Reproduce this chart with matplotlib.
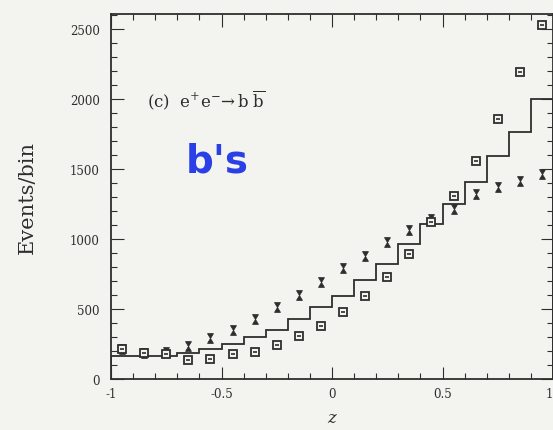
import matplotlib
matplotlib.use("Agg")
import matplotlib.pyplot as plt
from matplotlib.ticker import MultipleLocator
import numpy as np

# bin edges in z and histogram (step) contents
edges = np.linspace(-1, 1, 21)
hist_vals = [164, 164, 164, 186, 214, 250, 300, 350, 429, 514,
             593, 707, 821, 964, 1107, 1250, 1407, 1593, 1764, 2000]

# data points (bin centres)
centres = [-0.95, -0.85, -0.75, -0.65, -0.55, -0.45, -0.35, -0.25, -0.15, -0.05,
           0.05, 0.15, 0.25, 0.35, 0.45, 0.55, 0.65, 0.75, 0.85, 0.95]
hourglass_vals = [214, 186, 193, 236, 293, 350, 429, 514, 600, 693,
                  793, 879, 979, 1064, 1143, 1214, 1321, 1371, 1414, 1464]
square_vals = [214, 186, 179, 136, 143, 179, 193, 243, 307, 379,
               479, 593, 729, 893, 1121, 1307, 1557, 1857, 2193, 2529]

xticks = [-1, -0.5, 0, 0.5, 1]
xtick_labels = ["-1", "-0.5", "0", "0.5", "1"]
yticks = [0, 500, 1000, 1500, 2000, 2500]

bg = "#f3f3f0"
ink = "#2e2e2e"

plt.rcParams["font.family"] = "DejaVu Serif"
plt.rcParams["mathtext.fontset"] = "dejavuserif"

fig = plt.figure(figsize=(5.53, 4.31), dpi=100, facecolor=bg)
ax = fig.add_axes([111 / 553, 51 / 431, 442 / 553, 365 / 431], facecolor=bg)

ax.stairs(hist_vals, edges, color=ink, linewidth=1.3)

hourglass = [(-0.6, 1), (0.6, 1), (-0.6, -1), (0.6, -1), (-0.6, 1)]
ax.plot(centres, hourglass_vals, linestyle="none", marker=hourglass,
        markersize=7, color=ink, markeredgewidth=0.6)
ax.plot(centres, square_vals, linestyle="none", marker="s", markersize=5.5,
        markerfacecolor=bg, markeredgecolor=ink, markeredgewidth=1.3)
ax.plot(centres, square_vals, linestyle="none", marker="_", markersize=3.5,
        color=ink, markeredgewidth=1.2)

ax.set_xlim(-1, 1)
ax.set_ylim(0, 2607)
ax.set_xticks(xticks)
ax.set_xticklabels(xtick_labels)
ax.get_xticklabels()[-1].set_horizontalalignment("right")
ax.set_yticks(yticks)
ax.xaxis.set_minor_locator(MultipleLocator(0.1))
ax.yaxis.set_minor_locator(MultipleLocator(100))
ax.tick_params(which="both", direction="in", top=True, right=True,
               colors=ink, labelsize=8.5, width=0.8)
ax.tick_params(which="major", length=9)
ax.tick_params(which="minor", length=4)
ax.tick_params(axis="y", which="major", pad=8)
ax.tick_params(axis="x", which="major", pad=6)
for s in ax.spines.values():
    s.set_color(ink)
    s.set_linewidth(1.3)

ax.set_ylabel("Events/bin", fontsize=15, color=ink, labelpad=24)
ax.set_xlabel("z", fontsize=12, color=ink, style="italic", labelpad=6)

ax.text(-0.835, 2000, r"(c)  $\mathrm{e^{+}e^{-}\!\rightarrow b}\;\overline{\mathrm{b}}$",
        fontsize=12, color=ink, va="center", ha="left")
ax.text(-0.52, 1560, "b's", fontsize=28, fontweight="bold", color="#2a3fe6",
        family="DejaVu Sans", ha="center", va="center")

fig.savefig("out.png", dpi=100, facecolor=bg)
